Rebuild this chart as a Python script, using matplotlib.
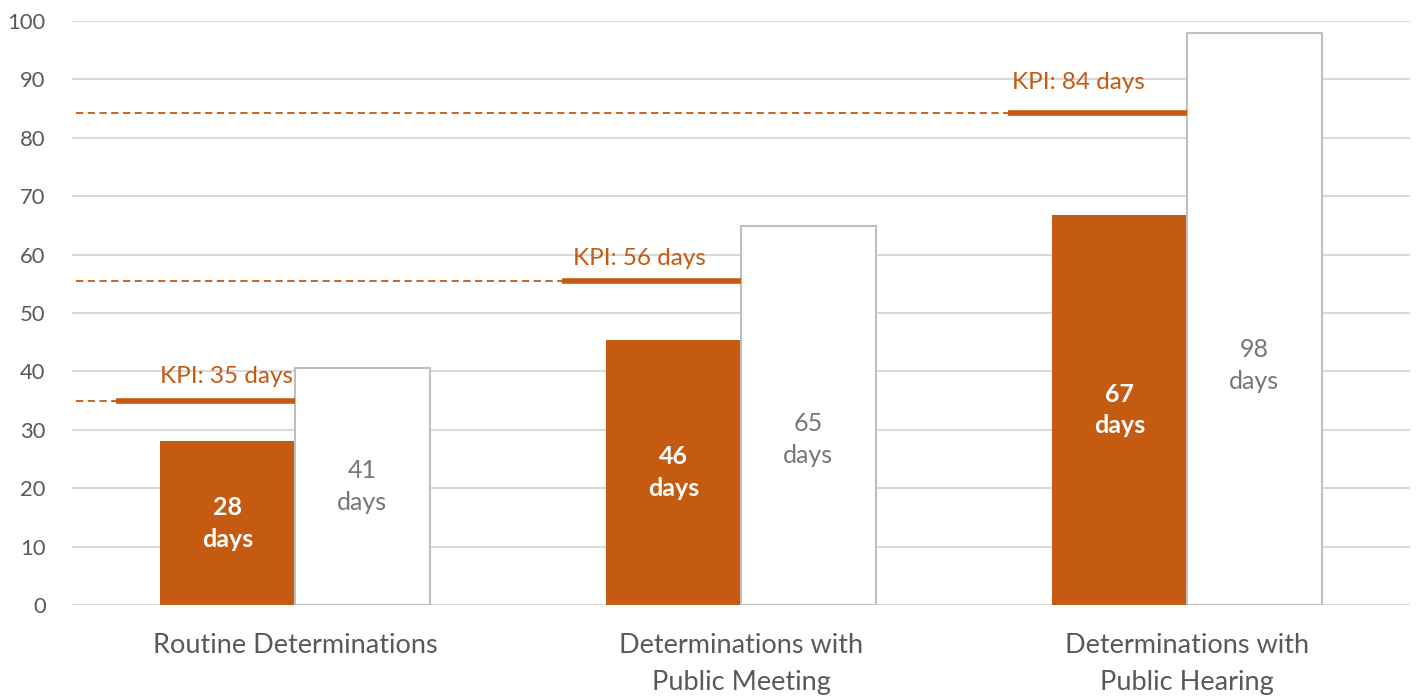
import matplotlib.pyplot as plt
import numpy as np

# Chart data (bar heights; labels as printed)
categories = ["Routine Determinations", "Determinations with\nPublic Meeting",
              "Determinations with\nPublic Hearing"]
actual_days = [28.0, 45.3, 66.8]
actual_labels = ["28", "46", "67"]
previous_days = [40.5, 64.9, 97.9]
previous_labels = ["41", "65", "98"]
kpi_days = [35.0, 55.4, 84.2]
kpi_labels = ["35", "56", "84"]

ORANGE = "#C55A11"
GREY_TEXT = "#595959"
LIGHT_TEXT = "#767676"
GRID = "#D9D9D9"

plt.rcParams["font.family"] = ["Lato", "DejaVu Sans"]

fig = plt.figure(figsize=(14.2, 6.97), dpi=100)
ax = fig.add_axes([72 / 1420, 92 / 697, 1338 / 1420, 584 / 697])

x = np.arange(len(categories))
w = 0.302

ax.bar(x - w / 2, actual_days, width=w, color=ORANGE, zorder=3)
ax.bar(x + w / 2, previous_days, width=w, color="white", edgecolor="#BFBFBF",
       linewidth=1.5, zorder=3)

# KPI markers: thin dashed lead-in from the axis, thick line over the orange bar
kpi_label_dx = [-0.302, -0.376, -0.392]
kpi_label_dy = [4.2, 4.0, 5.2]
for i, kpi in enumerate(kpi_days):
    start = x[i] - w - 0.1
    ax.plot([-0.49, start], [kpi, kpi], color=ORANGE, lw=1.3,
            dashes=(4, 2.5), zorder=4)
    ax.plot([start, x[i]], [kpi, kpi], color=ORANGE, lw=4, zorder=4,
            solid_capstyle="butt")
    ax.text(x[i] + kpi_label_dx[i], kpi + kpi_label_dy[i],
            f"KPI: {kpi_labels[i]} days", color=ORANGE, fontsize=17.5,
            ha="left", va="center", zorder=5)

# Value labels
prev_label_y = [20.3, 28.3, 41.0]
for i in range(len(categories)):
    ax.text(x[i] - w / 2, actual_days[i] / 2, f"{actual_labels[i]}\ndays",
            color="white", fontsize=18, fontweight="bold", ha="center",
            va="center", linespacing=1.45, zorder=5)
    ax.text(x[i] + w / 2, prev_label_y[i], f"{previous_labels[i]}\ndays",
            color=LIGHT_TEXT, fontsize=18, ha="center", va="center",
            linespacing=1.45, zorder=5)

ax.set_xlim(-0.5, len(categories) - 0.5)
ax.set_ylim(0, 100)
ax.set_yticks(range(0, 101, 10))
ax.set_xticks(x)
ax.set_xticklabels(categories, linespacing=1.6, fontsize=19.5)
ax.yaxis.grid(True, color=GRID, lw=1.5, zorder=0)
for s in ax.spines.values():
    s.set_visible(False)
ax.tick_params(axis="both", length=0, labelcolor=GREY_TEXT)
ax.tick_params(axis="y", labelsize=15.8, pad=19)
ax.tick_params(axis="x", pad=20)

fig.savefig("out.png", dpi=100)
